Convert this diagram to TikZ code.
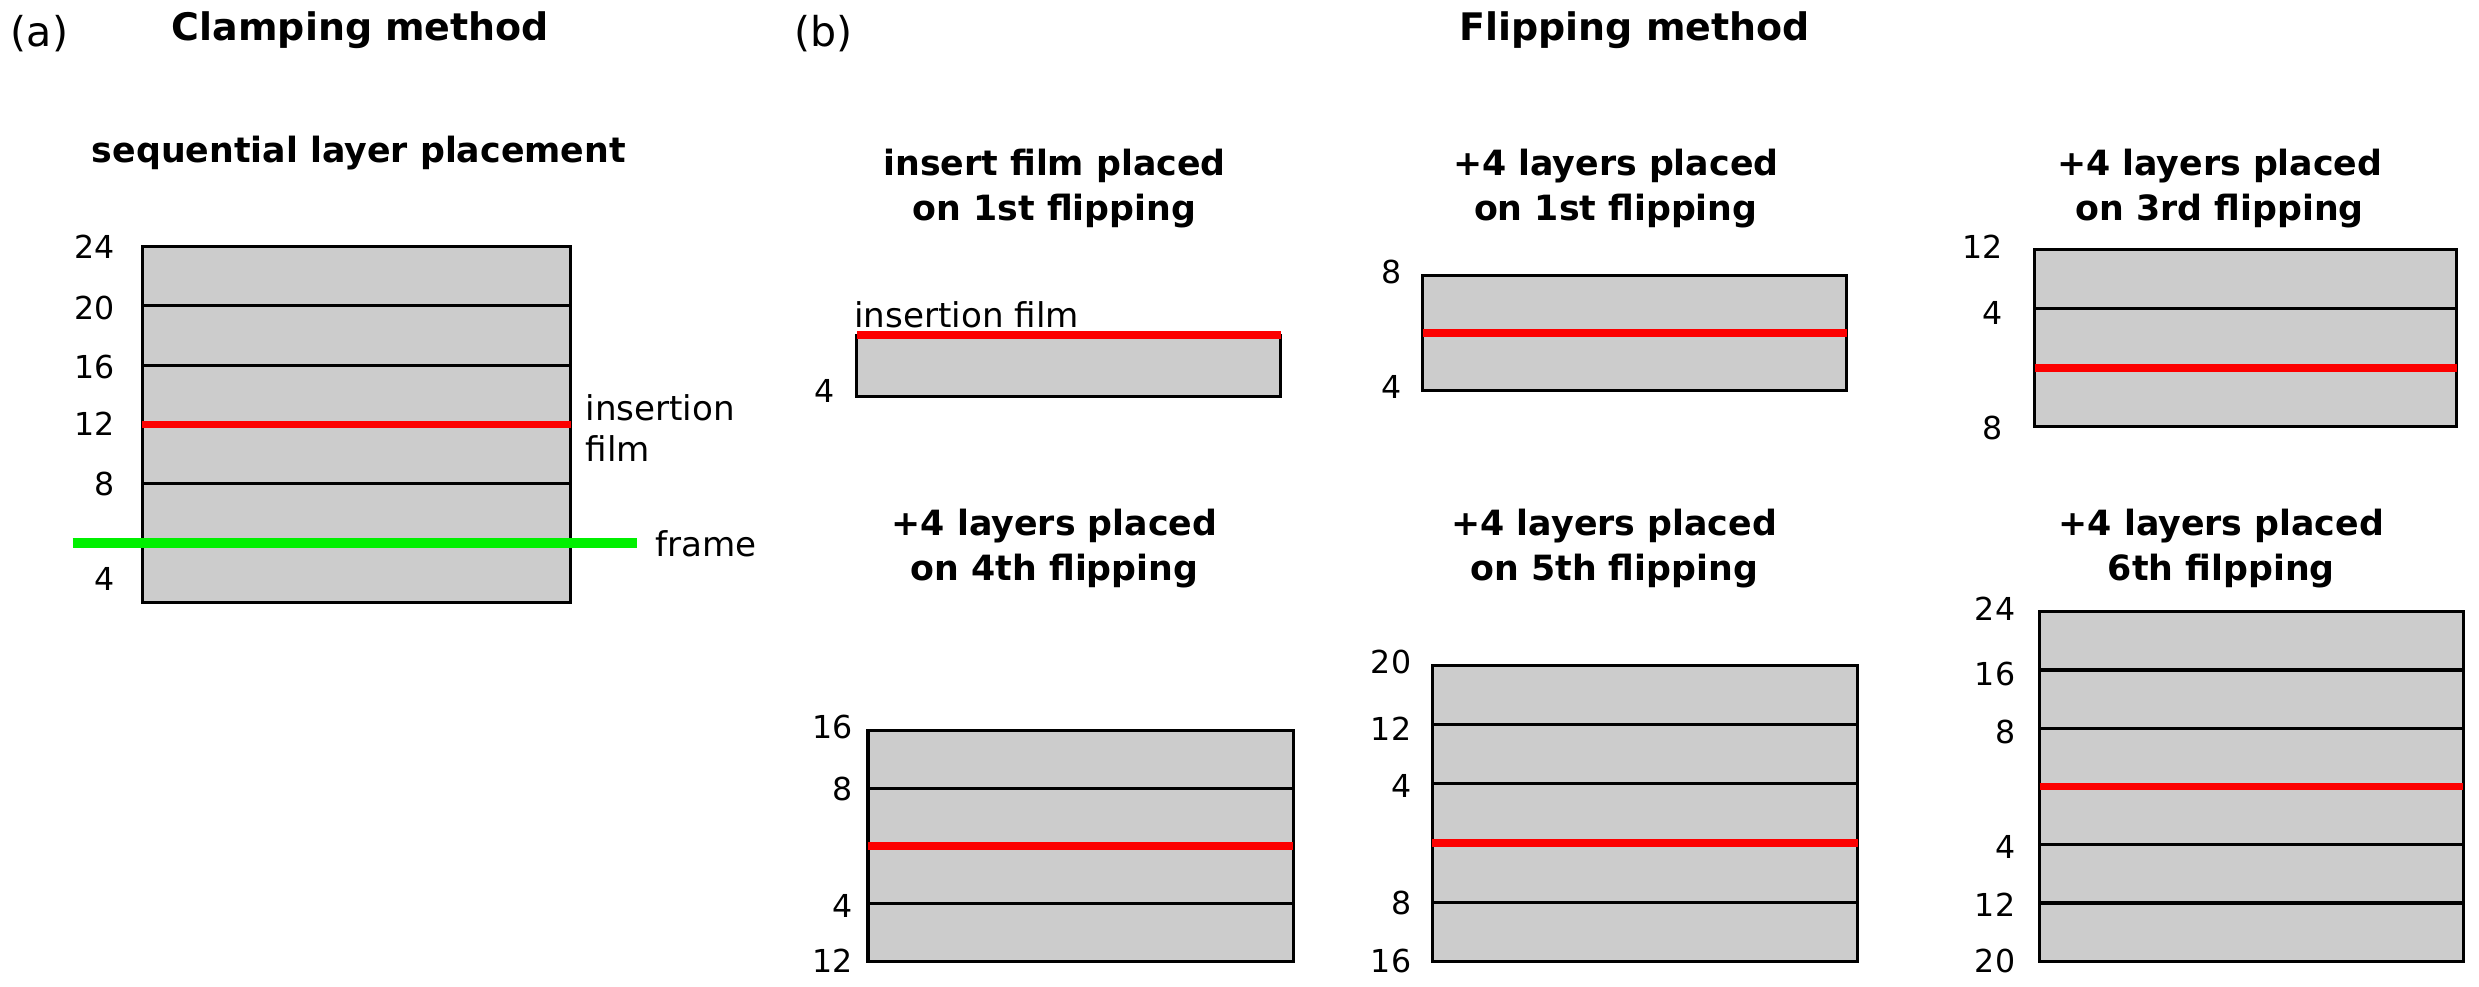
\documentclass[tikz,border=0pt]{standalone}
\usepackage{fontspec}
\setmainfont{DejaVu Sans}
\usetikzlibrary{calc}
\newcommand{\layerln}[3]{\draw[#3] ($(#1.north west)!#2!(#1.south west)$) -- ($(#1.north east)!#2!(#1.south east)$);}
\begin{document}
\begin{tikzpicture}[x=0.5pt,y=-0.5pt,
  layerbox/.style={draw=black, fill=black!20, line width=1pt, outer sep=0pt, inner sep=0pt, anchor=north west},
  sepline/.style={black, line width=1pt},
  filmline/.style={red!90!black!10!red, line width=2.5pt},
  frameline/.style={green!90!black!60!green, line width=3pt},
  bigttl/.style={font=\fontsize{12}{14}\selectfont\bfseries, inner sep=0pt},
  ttl/.style={font=\fontsize{11}{14.25}\selectfont\bfseries, align=center, inner sep=0pt},
  plabel/.style={font=\fontsize{13}{15}\selectfont, inner sep=0pt},
  txt/.style={font=\fontsize{10.8}{13}\selectfont, inner sep=0pt},
  num/.style={font=\fontsize{10}{11}\selectfont, anchor=east, inner sep=0pt}]
\useasboundingbox (0,0) rectangle (1568,624);
% ---------- panel (a)
\node[plabel] (la) at (25,21) {(a)};
\node[bigttl] (ta) at (228,19) {Clamping method};
\node[ttl] (sa) at (227,97) {sequential layer placement};
\node[layerbox, minimum width=135.5pt, minimum height=112.5pt] (A) at (90,156) {};
\layerln{A}{1/6}{sepline}
\layerln{A}{2/6}{sepline}
\layerln{A}{4/6}{sepline}
\layerln{A}{3/6}{filmline}
\coordinate (gl) at (46,343.5);
\coordinate (gr) at (403,343.5);
\draw[frameline] (gl) -- (gr);
\node[num] (a24) at (73,156) {24};
\node[num] (a20) at (73,195) {20};
\node[num] (a16) at (73,232) {16};
\node[num] (a12) at (73,268) {12};
\node[num] (a8) at (73,306) {8};
\node[num] (a4) at (73,366) {4};
\node[txt, anchor=west, align=left] (ains) at (370,271) {insertion\\film};
\node[txt, anchor=west] (afr) at (414,344) {frame};
% ---------- panel (b)
\node[plabel] (lb) at (521,21) {(b)};
\node[bigttl] (tb) at (1034,19) {Flipping method};
% row 1
\node[ttl] (t1) at (667,119) {insert film placed\\on 1st flipping};
\node[ttl] (t2) at (1022,119) {+4 layers placed\\on 1st flipping};
\node[ttl] (t3) at (1404,119) {+4 layers placed\\on 3rd flipping};
\node[layerbox, minimum width=134pt, minimum height=19.5pt] (B1) at (542,212) {};
\layerln{B1}{0}{filmline}
\node[txt, anchor=west] (b1ins) at (540,199) {insertion film};
\node[num] (b1n4) at (528,247) {4};
\node[layerbox, minimum width=134pt, minimum height=36.5pt] (B2) at (900,174) {};
\layerln{B2}{1/2}{filmline}
\node[num] (b2n8) at (887,172) {8};
\node[num] (b2n4) at (887,245) {4};
\node[layerbox, minimum width=133.5pt, minimum height=56pt] (B3) at (1287,158) {};
\layerln{B3}{1/3}{sepline}
\layerln{B3}{2/3}{filmline}
\node[num] (b3n12) at (1267,156) {12};
\node[num] (b3n4) at (1267,198) {4};
\node[num] (b3n8) at (1267,271) {8};
% row 2
\node[ttl] (t4) at (667,347) {+4 layers placed\\on 4th flipping};
\node[ttl] (t5) at (1021,347) {+4 layers placed\\on 5th flipping};
\node[ttl] (t6) at (1405,347) {+4 layers placed\\6th filpping};
\node[layerbox, minimum width=134.5pt, minimum height=73pt] (B4) at (549,462) {};
\layerln{B4}{1/4}{sepline}
\layerln{B4}{3/4}{sepline}
\layerln{B4}{2/4}{filmline}
\node[num] (b4n16) at (540,460) {16};
\node[num] (b4n8) at (540,499) {8};
\node[num] (b4n4) at (540,573) {4};
\node[num] (b4n12) at (540,608) {12};
\node[layerbox, minimum width=134.5pt, minimum height=93.5pt] (B5) at (906,421) {};
\layerln{B5}{1/5}{sepline}
\layerln{B5}{2/5}{sepline}
\layerln{B5}{4/5}{sepline}
\layerln{B5}{3/5}{filmline}
\node[num] (b5n20) at (893,419) {20};
\node[num] (b5n12) at (893,461) {12};
\node[num] (b5n4) at (893,497) {4};
\node[num] (b5n8) at (893,571) {8};
\node[num] (b5n16) at (893,608) {16};
\node[layerbox, minimum width=134pt, minimum height=110.5pt] (B6) at (1290,387) {};
\layerln{B6}{1/6}{sepline}
\layerln{B6}{2/6}{sepline}
\layerln{B6}{4/6}{sepline}
\layerln{B6}{5/6}{sepline}
\layerln{B6}{3/6}{filmline}
\node[num] (b6n24) at (1275,385) {24};
\node[num] (b6n16) at (1275,426) {16};
\node[num] (b6n8) at (1275,463) {8};
\node[num] (b6n4) at (1275,536) {4};
\node[num] (b6n12) at (1275,572) {12};
\node[num] (b6n20) at (1275,608) {20};
\end{tikzpicture}
\end{document}
